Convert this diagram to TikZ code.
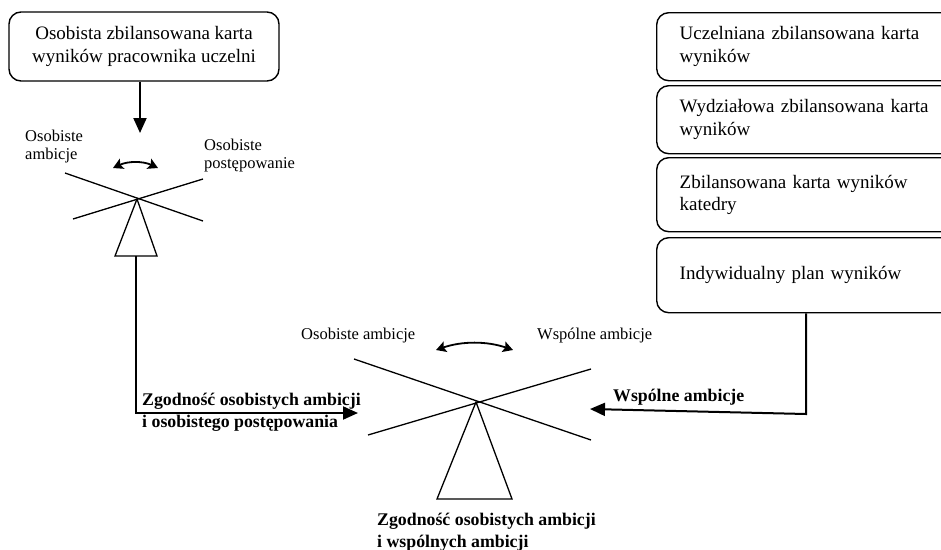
\documentclass[tikz,border=0pt]{standalone}
\usepackage{fontspec}
\setmainfont{Liberation Serif}
\usetikzlibrary{arrows.meta}
\begin{document}
\begin{tikzpicture}[x=1pt,y=-1pt,
  box/.style={draw, line width=1.4pt, rounded corners=12pt, font=\fontsize{19}{22.5}\selectfont, inner sep=0pt},
  rbox/.style={box, anchor=north west, text width=300pt, inner xsep=23pt, align=left},
  lbl/.style={font=\fontsize{16.5}{18}\selectfont, inner sep=0pt, align=left, anchor=base west},
  blbl/.style={font=\bfseries\fontsize{17.8}{21.5}\selectfont, inner sep=0pt, align=left, anchor=base west},
  beam/.style={line width=1.3pt, line join=miter},
  conn/.style={line width=2pt, -{Triangle[length=15pt,width=13pt]}},
  swing/.style={line width=1.8pt, {Stealth[length=10pt,width=11pt,inset=2pt]}-{Stealth[length=10pt,width=11pt,inset=2pt]}}
]
\path[use as bounding box] (0,0) rectangle (941,549);
\clip (0,0) rectangle (941,549);

% top-left box
\node[box, minimum width=270pt, minimum height=69pt, align=center] (pbox) at (144,46.5)
  {Osobista zbilansowana karta\\wyników pracownika uczelni};

% right stack
\node[rbox, minimum height=68pt] (b1) at (656,12) {Uczelniana zbilansowana karta\\wyników};
\node[rbox, minimum height=68pt] (b2) at (656,85) {Wydziałowa zbilansowana karta\\wyników};
\node[rbox, minimum height=74pt] (b3) at (656,157) {Zbilansowana karta wyników\\katedry};
\node[rbox, minimum height=75pt] (b4) at (656,237) {Indywidualny plan wyników};

% left scale
\coordinate (ltip) at (140,133);
\coordinate (lp) at (137,199);
\draw[conn] (pbox.south -| ltip) -- (ltip);
\draw[beam] (65,173) -- (203,221);
\draw[beam] (73,219) -- (203,179);
\draw[beam] (lp) -- (157,256) -- (115,256) -- cycle;
\draw[swing] (113,168) .. controls (128,161) and (143,161) .. (158,168);
\node[lbl] (la) at (25,159) {Osobiste\\ambicje};
\node[lbl] (lb) at (204,168) {Osobiste\\postępowanie};

% connector from left scale to bottom scale
\coordinate (lbase) at (136,256);
\coordinate (lcorner) at (136,413);
\coordinate (ltipb) at (358,413);
\draw[conn] (lbase) -- (lcorner) -- (ltipb);
\node[blbl] (lz) at (142,427) {Zgodność osobistych ambicji\\i osobistego postępowania};

% bottom scale
\coordinate (bp) at (476,402);
\draw[beam] (354,359) -- (591,440);
\draw[beam] (368,435) -- (591,369);
\draw[beam] (bp) -- (512,499) -- (437,499) -- cycle;
\draw[swing] (436,350) .. controls (462,341) and (487,341) .. (513,350);
\node[lbl] (ba) at (301,339) {Osobiste ambicje};
\node[lbl] (bw) at (537,339) {Wspólne ambicje};
\node[blbl] (bz) at (377,547) {Zgodność osobistych ambicji\\i wspólnych ambicji};

% connector from right stack
\coordinate (rcorner) at (806,414);
\coordinate (rtip) at (590,409);
\draw[conn] (b4.south -| rcorner) -- (rcorner) -- (rtip);
\node[blbl] (rw) at (613,401) {Wspólne ambicje};
\end{tikzpicture}
\end{document}
